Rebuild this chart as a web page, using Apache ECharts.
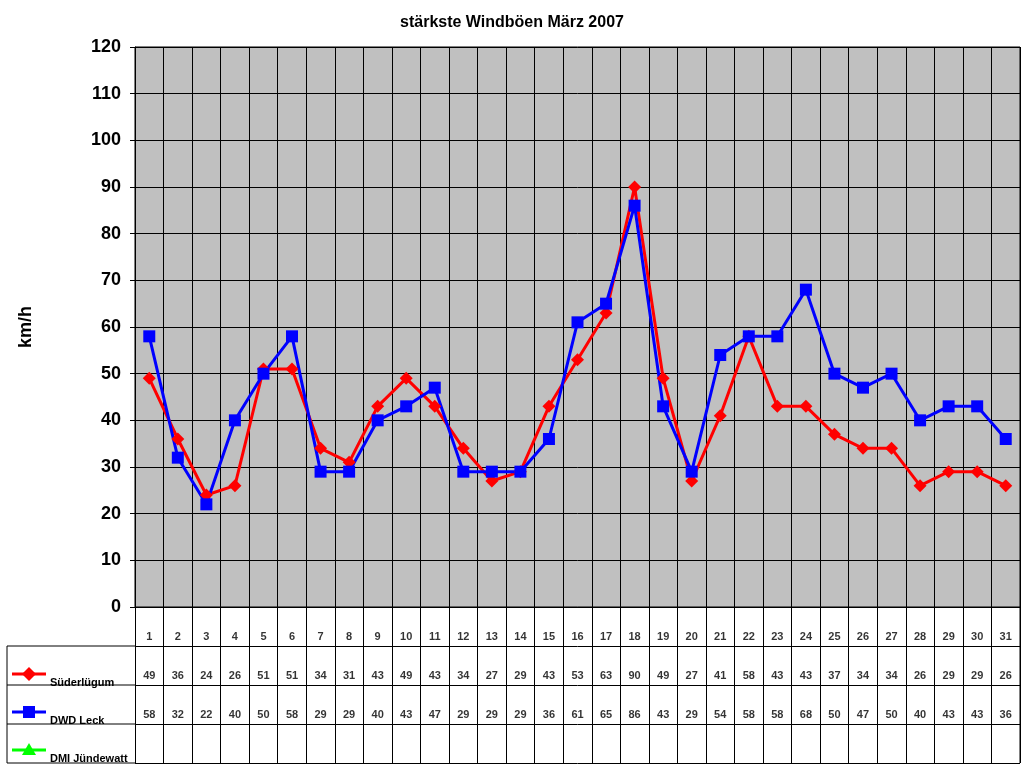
<!DOCTYPE html><html><head><meta charset="utf-8">
<script src="https://cdn.jsdelivr.net/npm/echarts@6/dist/echarts.min.js"></script>
<style>html,body{margin:0;background:#fff}#c{width:1024px;height:768px}</style></head><body><div id="c"></div>
<script>
const days=['1','2','3','4','5','6','7','8','9','10','11','12','13','14','15','16','17','18','19','20','21','22','23','24','25','26','27','28','29','30','31'];
const suederluegum=[49,36,24,26,51,51,34,31,43,49,43,34,27,29,43,53,63,90,49,27,41,58,43,43,37,34,34,26,29,29,26];
const dwdLeck=[58,32,22,40,50,58,29,29,40,43,47,29,29,29,36,61,65,86,43,29,54,58,58,68,50,47,50,40,43,43,36];
const seriesNames=['Süderlügum','DWD Leck','DMI Jündewatt'];
const yTicks={min:0,max:120,interval:10};
const ch=echarts.init(document.getElementById('c'));
const F='Arial, Liberation Sans, sans-serif';
function tableRow(vals,row){return vals.map((v,i)=>({value:[i,row+0.78],lab:String(v)}));}
const lblSeries=(vals,row)=>({type:'scatter',xAxisIndex:1,yAxisIndex:1,symbolSize:0,silent:true,
 data:tableRow(vals,row),label:{show:true,position:'inside',formatter:p=>p.data.lab,fontFamily:F,fontSize:11,fontWeight:'bold',color:'#000'}});
const cellLines=[];
[646,685,724,763].forEach(y=>cellLines.push({type:'line',shape:{x1:7,y1:y,x2:135,y2:y},style:{stroke:'#000',lineWidth:1}}));
cellLines.push({type:'line',shape:{x1:7,y1:646,x2:7,y2:763},style:{stroke:'#000',lineWidth:1}});
const leg=(y,color,sym,name)=>[
 {type:'line',shape:{x1:12,y1:y,x2:46,y2:y},style:{stroke:color,lineWidth:3}},
 sym==='d'?{type:'polygon',shape:{points:[[29,y-7],[36,y],[29,y+7],[22,y]]},style:{fill:color}}:
 sym==='s'?{type:'rect',shape:{x:23,y:y-6,width:12,height:12},style:{fill:color}}:
 {type:'polygon',shape:{points:[[29,y-7],[36,y+5],[22,y+5]]},style:{fill:color}},
 {type:'text',x:50,y:y+3,style:{text:name,font:'bold 11px '+F,fill:'#000'}}];
ch.setOption({
 animation:false,
 title:{text:'stärkste Windböen März 2007',left:'center',top:10,textStyle:{fontFamily:F,fontSize:16,fontWeight:'bold',color:'#000'}},
 grid:[{left:135,right:4,top:47,height:560,backgroundColor:'#c0c0c0',show:true,borderColor:'#000',borderWidth:1},
       {left:135,right:4,top:607,height:156,show:false}],
 xAxis:[{type:'category',data:days,gridIndex:0,boundaryGap:true,axisLabel:{show:false},axisTick:{show:false},axisLine:{lineStyle:{color:'#000'}},
   splitLine:{show:true,interval:0,lineStyle:{color:'#000',width:1}}},
  {type:'value',gridIndex:1,min:-0.5,max:30.5,interval:1,axisLabel:{show:false},axisTick:{show:false},axisLine:{show:false},
   splitLine:{show:true,lineStyle:{color:'#000'}}}],
 yAxis:[{type:'value',gridIndex:0,min:yTicks.min,max:yTicks.max,interval:yTicks.interval,name:'km/h',nameLocation:'middle',nameGap:100,
   nameTextStyle:{fontFamily:F,fontSize:18,fontWeight:'bold',color:'#000'},
   axisLabel:{fontFamily:F,fontSize:18,fontWeight:'bold',color:'#000',margin:14},axisLine:{show:true,lineStyle:{color:'#000'}},
   axisTick:{show:true,length:5,lineStyle:{color:'#000'}},splitLine:{lineStyle:{color:'#000',width:1}}},
  {type:'value',gridIndex:1,inverse:true,min:0,max:4,interval:1,axisLabel:{show:false},axisTick:{show:false},axisLine:{show:false},
   splitLine:{show:true,lineStyle:{color:'#000'}}}],
 series:[
  {name:seriesNames[0],type:'line',data:suederluegum,symbol:'diamond',symbolSize:13,lineStyle:{color:'#ff0000',width:3},itemStyle:{color:'#ff0000'}},
  {name:seriesNames[1],type:'line',data:dwdLeck,symbol:'rect',symbolSize:12,lineStyle:{color:'#0000ff',width:3},itemStyle:{color:'#0000ff'}},
  {type:'line',xAxisIndex:1,yAxisIndex:1,data:[[30.5,0],[30.5,4]],symbol:'none',lineStyle:{color:'#000',width:1},silent:true},
  lblSeries(days,0),lblSeries(suederluegum,1),lblSeries(dwdLeck,2)
 ],
 graphic:[...cellLines,...leg(674,'#ff0000','d',seriesNames[0]),...leg(712,'#0000ff','s',seriesNames[1]),...leg(750,'#00ff00','t',seriesNames[2])]
});
</script></body></html>
